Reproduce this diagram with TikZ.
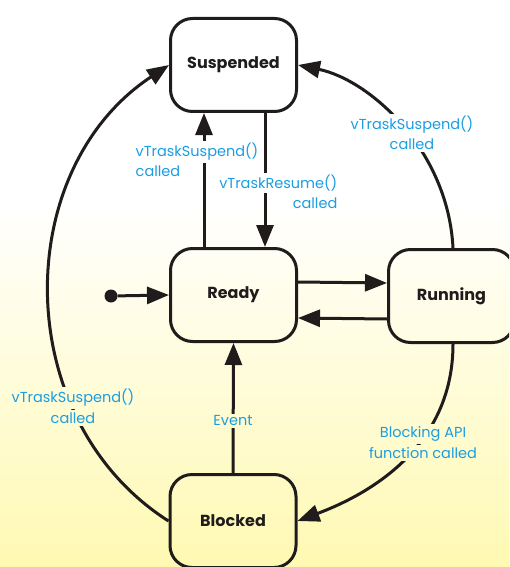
\documentclass[tikz,border=0pt]{standalone}
\usepackage{fontspec}
\setmainfont{Poppins}
\usetikzlibrary{arrows.meta}
\pgfdeclarelayer{cover}
\pgfdeclarelayer{fg}
\pgfsetlayers{main,cover,fg}
\definecolor{bgY}{RGB}{255,249,178}
\definecolor{bgM}{RGB}{255,251,212}
\definecolor{lblue}{RGB}{27,157,225}
\definecolor{ink}{RGB}{32,28,28}
\newcommand{\bgpaint}{\fill[white] (0,0) rectangle (509,201);
  \shade[top color=white, middle color=bgM, bottom color=bgY] (0,200) rectangle (509,567);}
\begin{document}
\begin{tikzpicture}[x=1pt,y=-1pt,
  state/.style={draw=ink, line width=3pt, rounded corners=22pt, minimum width=126pt,
    minimum height=93pt, font=\fontsize{16}{19}\selectfont\bfseries, text=ink},
  lbl/.style={text=lblue, font=\fontsize{14.5}{17}\selectfont, inner sep=1.5pt},
  edge/.style={draw=ink, line width=3pt, -{Triangle[length=22pt,width=17pt]}}]
\useasboundingbox (0,0) rectangle (509,567);
\clip (0,0) rectangle (509,567);
\bgpaint
\node[state] (susp) at (233.5,65) {Suspended};
\node[state] (ready) at (233.5,295) {Ready};
\node[state] (run) at (451.5,296) {Running};
\node[state] (block) at (233,521) {Blocked};
\node[circle, fill=ink, inner sep=0pt, minimum size=13pt] (init) at (111,296) {};
\draw[edge] ([xshift=-29.5pt]ready.north) -- ([xshift=-29.5pt]susp.south);
\draw[edge] ([xshift=31.5pt]susp.south) -- ([xshift=31.5pt]ready.north);
\draw[edge] ([yshift=13pt]ready.east) -- ([yshift=13pt]run.west);
\draw[edge] ([yshift=-23pt]run.west) -- ([yshift=-23pt]ready.east);
\draw[edge] (block.north) -- (ready.south);
\draw[edge] (init) -- (ready.west);
\draw[edge] ([xshift=1.5pt]run.north) .. controls (448,150) and (370,80) .. (susp.east);
\draw[edge] (block.west) .. controls (10,420) and (10,170) .. (susp.west);
\draw[edge] ([xshift=1.5pt]run.south) .. controls (453,440) and (380,490) .. (block.east);
\begin{pgfonlayer}{fg}
\node[lbl, anchor=west] (l1a) at (134,152) {vTraskSuspend()};
\node[lbl, anchor=west] (l1b) at (134,171) {called};
\node[lbl, anchor=east] (l2a) at (339,183) {vTraskResume()};
\node[lbl, anchor=east] (l2b) at (339,203) {called};
\node[lbl] (l3a) at (412,125) {vTraskSuspend()};
\node[lbl] (l3b) at (412,144) {called};
\node[lbl] (l4a) at (73,398) {vTraskSuspend()};
\node[lbl] (l4b) at (73,418) {called};
\node[lbl] (l5) at (233,421) {Event};
\node[lbl] (l6a) at (423,434) {Blocking API};
\node[lbl] (l6b) at (423,453) {function called};
\end{pgfonlayer}
\begin{pgfonlayer}{cover}
\foreach \n in {l1a,l1b,l2a,l2b,l3a,l3b,l4a,l4b,l5,l6a,l6b} {
  \begin{scope}
    \clip (\n.south west) rectangle (\n.north east);
    \bgpaint
  \end{scope}
}
\end{pgfonlayer}
\end{tikzpicture}
\end{document}
